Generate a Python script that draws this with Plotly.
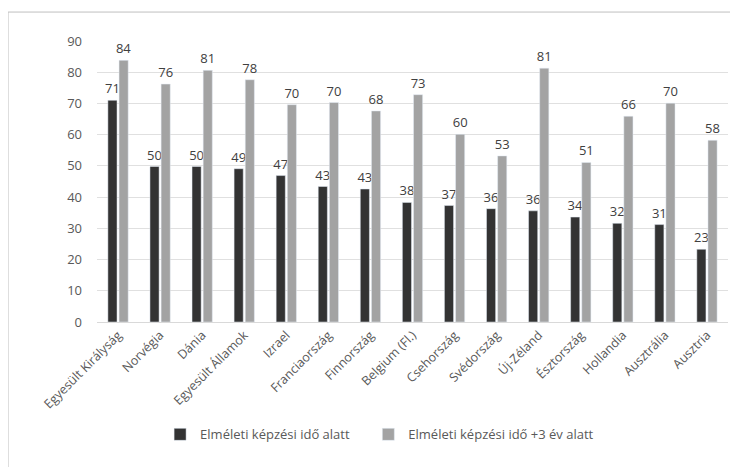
import plotly.graph_objects as go

categories = ["Egyesült Királyság", "Norvégia", "Dánia", "Egyesült Államok", "Izrael",
              "Franciaország", "Finnország", "Belgium (Fl.)", "Csehország", "Svédország",
              "Új-Zéland", "Észtország", "Hollandia", "Ausztrália", "Ausztria"]
series1_name = "Elméleti képzési idő alatt"
series2_name = "Elméleti képzési idő +3 év alatt"
series1 = [71.0, 49.8, 49.8, 49.1, 46.9, 43.4, 42.6, 38.3, 37.3, 36.3, 35.6, 33.6, 31.6, 31.2, 23.3]
series2 = [83.8, 76.2, 80.6, 77.6, 69.6, 70.3, 67.6, 72.8, 60.1, 53.2, 81.3, 51.1, 65.9, 70.1, 58.2]
y_ticks = [0, 10, 20, 30, 40, 50, 60, 70, 80, 90]

FONT = "Open Sans"
fig = go.Figure()
fig.add_trace(go.Bar(x=categories, y=series1, name=series1_name, marker_color="#333333",
                     text=[f"{v:.0f}" for v in series1], textposition="outside",
                     textfont=dict(size=13, color="#404040", family=FONT), cliponaxis=False,
                     legend="legend"))
fig.add_trace(go.Bar(x=categories, y=series2, name=series2_name, marker_color="#a3a3a3",
                     text=[f"{v:.0f}" for v in series2], textposition="outside",
                     textfont=dict(size=13, color="#404040", family=FONT), cliponaxis=False,
                     legend="legend2"))

legend_common = dict(orientation="h", xanchor="left", y=-0.40, yanchor="middle",
                     font=dict(size=13, color="#595959", family=FONT), itemwidth=30,
                     bgcolor="rgba(0,0,0,0)")
fig.update_layout(
    width=722, height=459,
    margin=dict(l=89, r=2, t=33, b=145),
    paper_bgcolor="white", plot_bgcolor="white",
    barmode="group", bargap=0.47, bargroupgap=0.18,
    font=dict(family=FONT, size=12, color="#595959"),
    showlegend=True,
    legend=dict(x=0.10, **legend_common),
    legend2=dict(x=0.43, **legend_common),
    xaxis=dict(tickangle=-45, showgrid=False, showline=True, linecolor="#d9d9d9",
               ticks="", tickfont=dict(size=12.5, color="#595959")),
    yaxis=dict(range=[0, 90], tickvals=y_ticks, showgrid=True, gridcolor="#e0e0e0",
               zeroline=False, showline=False, ticks="", ticklabelstandoff=14,
               tickfont=dict(size=13, color="#595959")),
    uniformtext=dict(minsize=13, mode="show"),
)
# outer chart border (top and left edges)
fig.add_shape(type="line", xref="paper", yref="paper", x0=-0.141, x1=1.03, y0=1.103, y1=1.103,
              line=dict(color="#bfbfbf", width=1))
fig.add_shape(type="line", xref="paper", yref="paper", x0=-0.141, x1=-0.141, y0=-0.56, y1=1.103,
              line=dict(color="#bfbfbf", width=1))

fig.write_html("out.html")
